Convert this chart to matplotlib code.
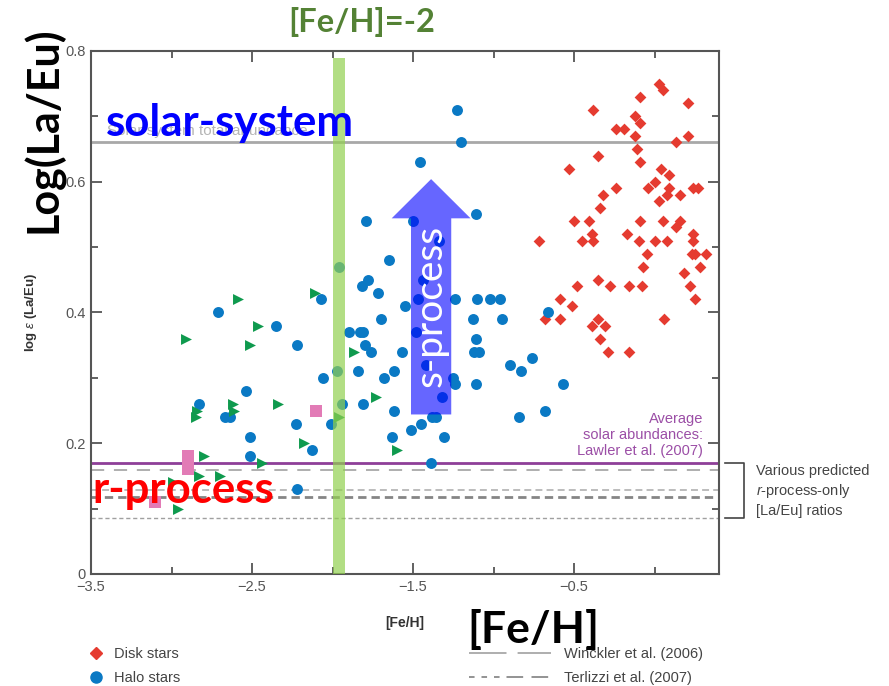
import matplotlib
matplotlib.use('Agg')
import matplotlib.pyplot as plt
from matplotlib.lines import Line2D
from matplotlib.patches import FancyArrow, Rectangle
from matplotlib.ticker import MultipleLocator

plt.rcParams['font.family'] = ['Liberation Sans', 'DejaVu Sans']
plt.rcParams['mathtext.fontset'] = 'custom'
plt.rcParams['mathtext.rm'] = 'Liberation Sans'
plt.rcParams['mathtext.it'] = 'Liberation Sans:italic'
plt.rcParams['mathtext.bf'] = 'Liberation Sans:bold'
plt.rcParams['lines.scale_dashes'] = False

# Disk stars (red diamonds)
disk_feh = [0.03, 0.05, -0.09, 0.21, -0.38, -0.12, -0.09, -0.24, -0.19, -0.12,
            0.21, 0.13, -0.11, -0.35, -0.09, -0.53, 0.04, 0.09, 0.00, -0.04,
            0.09, -0.24, 0.08, 0.16, 0.24, 0.27, -0.32, 0.03, -0.34, -0.50,
            -0.41, -0.09, 0.05, 0.16, 0.13, -0.39, -0.17, 0.24, -0.72, -0.45,
            -0.38, -0.10, 0.00, 0.08, 0.24, -0.05, 0.23, 0.25, 0.32, -0.07,
            0.28, 0.18, -0.35, -0.48, -0.28, -0.16, -0.08, 0.22, -0.59, 0.25,
            -0.51, -0.68, -0.59, -0.35, 0.06, -0.39, -0.31, -0.34, -0.29, -0.16]
disk_laeu = [0.75, 0.74, 0.73, 0.72, 0.71, 0.70, 0.69, 0.68, 0.68, 0.67,
             0.67, 0.66, 0.65, 0.64, 0.63, 0.62, 0.62, 0.61, 0.60, 0.59,
             0.59, 0.59, 0.58, 0.58, 0.59, 0.59, 0.58, 0.57, 0.56, 0.54,
             0.54, 0.54, 0.54, 0.54, 0.53, 0.52, 0.52, 0.52, 0.51, 0.51,
             0.51, 0.51, 0.51, 0.51, 0.51, 0.49, 0.49, 0.49, 0.49, 0.47,
             0.47, 0.46, 0.45, 0.44, 0.44, 0.44, 0.44, 0.44, 0.42, 0.42,
             0.41, 0.39, 0.39, 0.39, 0.39, 0.38, 0.38, 0.36, 0.34, 0.34]

# Halo stars (blue circles)
halo_feh = [-1.23, -1.20, -1.46, -1.79, -1.50, -1.11, -1.34, -1.65, -1.96, -1.78,
            -1.82, -1.72, -1.44, -2.07, -1.47, -1.24, -1.10, -1.02, -0.96, -1.55,
            -2.71, -0.66, -1.70, -1.13, -0.95, -2.35, -1.90, -1.83, -1.81, -1.48,
            -1.11, -2.22, -1.80, -1.76, -1.57, -1.12, -1.09, -0.76, -1.42, -0.90,
            -1.97, -1.84, -1.62, -0.83, -2.06, -1.68, -1.25, -1.24, -1.11, -0.57,
            -2.54, -1.32, -2.83, -1.94, -1.81, -1.62, -0.68, -2.67, -2.64, -1.38,
            -1.36, -0.84, -2.23, -2.01, -1.45, -1.51, -2.51, -1.63, -1.31, -2.13,
            -2.51, -1.39, -2.22]
halo_laeu = [0.71, 0.66, 0.63, 0.54, 0.54, 0.55, 0.51, 0.48, 0.47, 0.45,
             0.44, 0.43, 0.45, 0.42, 0.42, 0.42, 0.42, 0.42, 0.42, 0.41,
             0.40, 0.40, 0.39, 0.39, 0.39, 0.38, 0.37, 0.37, 0.37, 0.37,
             0.36, 0.35, 0.35, 0.34, 0.34, 0.34, 0.34, 0.33, 0.32, 0.32,
             0.31, 0.31, 0.31, 0.31, 0.30, 0.30, 0.30, 0.29, 0.29, 0.29,
             0.28, 0.27, 0.26, 0.26, 0.26, 0.25, 0.25, 0.24, 0.24, 0.24,
             0.24, 0.24, 0.23, 0.23, 0.23, 0.22, 0.21, 0.21, 0.21, 0.19,
             0.18, 0.17, 0.13]

# Green triangles
tri_feh = [-2.59, -2.91, -2.46, -2.51, -2.11, -1.87, -2.62, -2.61, -2.84, -2.85,
           -2.34, -1.96, -2.18, -1.73, -1.60, -2.80, -2.44, -2.83, -2.70, -2.99,
           -2.96]
tri_laeu = [0.42, 0.36, 0.38, 0.35, 0.43, 0.34, 0.26, 0.25, 0.25, 0.24,
            0.26, 0.24, 0.20, 0.27, 0.19, 0.18, 0.17, 0.15, 0.15, 0.14,
            0.10]

# Pink squares
sq_feh = [-2.10, -2.90, -2.90, -2.90, -3.10]
sq_laeu = [0.25, 0.18, 0.17, 0.16, 0.11]

solar_total = 0.66
lawler = 0.17
r_only = [0.159, 0.128, 0.117, 0.086]
feh_mark = -1.96

fig = plt.figure(figsize=(8.89, 6.86), dpi=100)
ax = fig.add_axes([0.1024, 0.1633, 0.7064, 0.7624])
ax.set_xlim(-3.5, 0.4)
ax.set_ylim(0, 0.8)

# reference lines
ax.axhline(solar_total, color='#a8a8a8', lw=2, zorder=1)
ax.text(-3.40, solar_total + 0.007, 'Solar system total abundance', color='#b5b5b5',
        fontsize=11, va='bottom', zorder=1)
ax.axhline(r_only[0], color='#a8a8a8', lw=1.3, dashes=(9.5, 7), zorder=1)
ax.axhline(r_only[1], color='#b0b0b0', lw=1.2, dashes=(5, 3), zorder=1)
ax.axhline(r_only[2], color='#858585', lw=2, dashes=(6, 3.6), zorder=1)
ax.axhline(r_only[3], color='#a0a0a0', lw=1, dashes=(3, 2), zorder=1)
ax.axhline(lawler, color='#8e3f98', lw=2, zorder=2)
ax.text(0.30, lawler + 0.008, 'Average\nsolar abundances:\nLawler et al. (2007)',
        color='#9b4ea6', fontsize=10.5, ha='right', va='bottom', linespacing=1.15)

# data
ax.scatter(disk_feh, disk_laeu, marker='D', s=36, color='#e53b30', lw=0, zorder=3)
ax.scatter(halo_feh, halo_laeu, marker='o', s=62, color='#0a79c4', lw=0, zorder=3)
ax.scatter(tri_feh, tri_laeu, marker='>', s=62, color='#0f9a4e', lw=0, zorder=3)
ax.scatter(sq_feh, sq_laeu, marker='s', s=75, color='#e27bb6', lw=0, zorder=3)

# axes styling
for sp in ax.spines.values():
    sp.set_color('#555555')
    sp.set_linewidth(1.5)
ax.set_xticks([-3.5, -2.5, -1.5, -0.5])
ax.set_xticklabels(['\u22123.5', '\u22122.5', '\u22121.5', '\u22120.5'])
ax.set_yticks([0, 0.2, 0.4, 0.6, 0.8])
ax.set_yticklabels(['0', '0.2', '0.4', '0.6', '0.8'])
ax.xaxis.set_minor_locator(MultipleLocator(0.5))
ax.yaxis.set_minor_locator(MultipleLocator(0.1))
ax.tick_params(which='both', direction='in', top=True, right=True, color='#555555',
               labelcolor='#555555', labelsize=10.5, width=1.3)
ax.tick_params(which='major', length=8, pad=4)
ax.tick_params(which='minor', length=5)
ax.set_xlabel('[Fe/H]', fontsize=10, fontweight='bold', color='#333333', labelpad=16)
ax.set_ylabel(r'log $\epsilon$ (La/Eu)', fontsize=9.5, fontweight='bold', color='#333333',
              labelpad=19)

# bracket for the r-process-only ratios
tr = ax.get_yaxis_transform()
ax.plot([1.01, 1.039, 1.039, 1.01], [lawler, lawler, r_only[3], r_only[3]],
        transform=tr, color='#444444', lw=1.2, clip_on=False)
ax.text(1.059, r_only[0] - 0.001, 'Various predicted', transform=tr, fontsize=10.5,
        color='#444444', va='center')
ax.text(1.059, (r_only[0] + r_only[3]) / 2 + 0.005, r'$\it{r}$-process-only', transform=tr,
        fontsize=10.5, color='#444444', va='center')
ax.text(1.059, r_only[3] + 0.01, '[La/Eu] ratios', transform=tr, fontsize=10.5,
        color='#444444', va='center')

# legends below the plot
h1 = [Line2D([], [], marker='D', color='#e53b30', ls='none', ms=6.5),
      Line2D([], [], marker='o', color='#0a79c4', ls='none', ms=8)]
fig.legend(h1, ['Disk stars', 'Halo stars'], loc='upper left',
           bbox_to_anchor=(0.0985, 0.057), frameon=False, fontsize=10.5,
           labelcolor='#444444', handletextpad=0.6, labelspacing=0.7,
           handlelength=1.2, borderaxespad=0, borderpad=0)
h2 = [Line2D([], [], color='#a8a8a8', lw=1.3, dashes=(27, 8)),
      Line2D([], [], color='#8a8a8a', lw=1.3, dashes=(4, 5, 4, 5, 4, 5, 12, 6, 12, 6))]
fig.legend(h2, ['Winckler et al. (2006)', 'Terlizzi et al. (2007)'], loc='upper left',
           bbox_to_anchor=(0.528, 0.057), frameon=False, fontsize=10.5,
           labelcolor='#444444', handletextpad=0.9, labelspacing=0.7,
           handlelength=5.6, borderaxespad=0, borderpad=0)

# highlight of [Fe/H] = -2 and the s-process direction
ax.add_patch(Rectangle((feh_mark - 0.037, 0), 0.074, 0.79, color='#92d050', alpha=0.7,
                       lw=0, zorder=4))
ax.add_patch(FancyArrow(-1.388, 0.244, 0, 0.36, width=0.25, head_width=0.49,
                        head_length=0.06, length_includes_head=True, color='blue',
                        alpha=0.6, lw=0, zorder=5))
ax.text(-1.39, 0.41, 's-process', rotation=90, color='white', fontsize=28,
        family='Lato', ha='center', va='center', zorder=6)

big = dict(family='Lato', fontweight='bold', zorder=7)
fig.text(362 / 889, 1 - 22 / 686, '[Fe/H]=-2', color='#548235', fontsize=23.5,
         ha='center', va='center', **big)
fig.text(43 / 889, 1 - 130 / 686, 'Log(La/Eu)', color='black', fontsize=31,
         rotation=90, ha='center', va='center', **big)
ax.text(-3.41, solar_total + 0.03, 'solar-system', color='#0000ff', fontsize=31.5,
        va='center', **big)
ax.text(-3.49, 0.128, 'r-process', color='#ff0000', fontsize=31.5, va='center', **big)
fig.text(533 / 889, 1 - 630 / 686, '[Fe/H]', color='black', fontsize=32,
         ha='center', va='center', **big)

fig.savefig('out.png', dpi=100)
